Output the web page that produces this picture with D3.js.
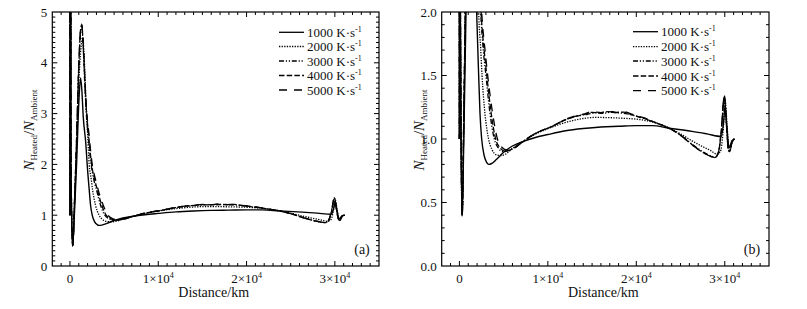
<!DOCTYPE html>
<html><head><meta charset="utf-8">
<script src="https://cdn.jsdelivr.net/npm/d3@7"></script>
<style>body{margin:0;background:#fff}svg{display:block}</style>
</head><body>
<svg id="c" width="807" height="309" font-family="'Liberation Serif', 'DejaVu Serif', 'Times New Roman', serif"></svg>
<script>
// ---- data (distance km, N_heated/N_ambient) ----
const seriesLabels = ["1000", "2000", "3000", "4000", "5000"];
const s1000 = [[0,1.0],[15,9],[70,9],[110,2.0],[300,0.39],[500,1.0],[750,2.0],[1000,3.2],[1200,3.7],[1350,3.45],[1500,2.95],[1800,2.4],[1950,2.0],[2180,1.5],[2330,1.2],[2520,1.0],[2800,0.87],[3050,0.82],[3300,0.80],[3600,0.805],[4200,0.84],[5000,0.895],[6000,0.945],[7000,0.975],[8500,1.01],[10000,1.035],[12000,1.065],[14000,1.083],[16000,1.095],[18000,1.10],[20000,1.105],[21800,1.105],[23700,1.085],[26300,1.06],[28000,1.04],[29600,1.02],[29850,1.12],[30050,1.26],[30250,1.08],[30500,0.93],[30800,0.985],[31100,1.0]];
const s2000 = [[0,1.0],[15,9],[70,9],[115,2.0],[310,0.4],[500,1.1],[750,2.3],[1000,3.6],[1250,4.3],[1450,4.5],[1600,4.15],[1800,3.3],[2000,2.6],[2180,2.0],[2400,1.72],[2560,1.5],[2890,1.2],[3300,1.0],[3700,0.915],[4200,0.875],[4700,0.87],[5200,0.88],[6000,0.925],[7000,0.97],[8500,1.035],[10500,1.095],[12000,1.13],[13500,1.155],[15400,1.17],[18000,1.165],[20700,1.15],[22500,1.12],[23700,1.087],[25000,1.04],[26300,0.985],[27500,0.94],[28500,0.905],[29100,0.88],[29500,0.9],[29800,1.05],[30050,1.3],[30250,1.12],[30450,0.93],[30600,0.92],[30850,0.985],[31100,1.0]];
const s3000 = [[0,1.0],[15,9],[70,9],[115,2.0],[320,0.4],[500,1.2],[750,2.45],[1000,3.9],[1200,4.6],[1330,4.72],[1500,4.3],[1700,3.5],[1850,3.0],[2100,2.5],[2400,2.0],[2700,1.7],[3000,1.5],[3460,1.2],[3950,1.0],[4400,0.93],[4900,0.9],[5400,0.905],[6000,0.925],[7000,0.97],[8500,1.04],[10500,1.1],[12000,1.15],[13500,1.185],[14500,1.195],[15400,1.205],[16200,1.202],[17000,1.21],[18000,1.205],[19000,1.198],[19500,1.19],[20700,1.165],[22500,1.12],[23700,1.085],[25000,1.03],[26300,0.96],[27500,0.9],[28500,0.865],[28900,0.855],[29300,0.9],[29600,1.05],[29950,1.33],[30200,1.1],[30400,0.92],[30550,0.9],[30800,0.97],[31100,1.0]];
const s4000 = [[0,1.0],[15,9],[70,9],[115,2.0],[320,0.4],[500,1.2],[750,2.5],[1000,3.95],[1200,4.65],[1330,4.75],[1500,4.35],[1700,3.6],[1850,3.1],[2100,2.6],[2450,2.0],[2800,1.7],[3100,1.5],[3600,1.2],[4100,1.0],[4600,0.93],[5100,0.905],[5600,0.91],[6200,0.93],[7000,0.97],[8500,1.04],[10500,1.1],[12000,1.152],[13000,1.175],[14000,1.19],[15000,1.21],[16000,1.205],[16800,1.215],[17800,1.208],[18600,1.212],[19500,1.19],[20700,1.168],[22500,1.12],[23700,1.085],[25000,1.03],[26300,0.955],[27500,0.895],[28500,0.862],[28900,0.853],[29300,0.9],[29600,1.06],[29950,1.34],[30200,1.1],[30400,0.92],[30550,0.9],[30800,0.97],[31100,1.0]];
const s5000 = [[0,1.0],[15,9],[70,9],[115,2.0],[320,0.4],[500,1.2],[750,2.5],[1000,3.95],[1200,4.65],[1330,4.76],[1500,4.4],[1700,3.65],[1850,3.15],[2150,2.6],[2520,2.0],[2900,1.7],[3200,1.5],[3760,1.2],[4300,1.0],[4800,0.935],[5300,0.915],[5800,0.92],[6400,0.935],[7000,0.97],[8500,1.04],[10500,1.1],[12000,1.155],[13000,1.18],[14000,1.195],[15000,1.215],[16000,1.208],[16800,1.22],[17800,1.21],[18600,1.215],[19500,1.195],[20700,1.17],[22500,1.12],[23700,1.085],[25000,1.03],[26300,0.955],[27500,0.895],[28500,0.86],[28900,0.85],[29300,0.9],[29600,1.06],[29950,1.34],[30200,1.1],[30400,0.92],[30550,0.9],[30800,0.97],[31100,1.0]];
const seriesData = [s1000, s2000, s3000, s4000, s5000];
const xDomain = [-2000, 35000];
const xMajorTicks = [0, 10000, 20000, 30000];
const xTickMant = ["0", "1", "2", "3"];
const yTicksA = [0, 1, 2, 3, 4, 5];
const yTicksB = [0.0, 0.5, 1.0, 1.5, 2.0];
const panelTags = ["(a)", "(b)"];

// ---- styles ----
const FONT = "'Liberation Serif', 'DejaVu Serif', 'Times New Roman', serif";
const dashes = [null, "1.3,1.3", "5,1.8,1.2,1.8,1.2,1.8", "5.5,2.2", "8,7"];

const svg = d3.select("#c");

function txt(g) { return g.append("text").attr("font-family", FONT).attr("fill", "#111"); }

function drawPanel(idx, L, R, T, B, yMax, yTicks, yMajorStep, yFmt, legX, legRows) {
  const g = svg.append("g");
  const x = d3.scaleLinear().domain(xDomain).range([L, R]);
  const y = d3.scaleLinear().domain([0, yMax]).range([B, T]);
  const clipId = "clip" + idx;
  g.append("clipPath").attr("id", clipId).append("rect")
    .attr("x", L).attr("y", T).attr("width", R - L).attr("height", B - T);

  const line = d3.line().x(d => x(d[0])).y(d => y(d[1])).curve(d3.curveMonotoneX);
  const lg = g.append("g").attr("clip-path", `url(#${clipId})`);
  seriesData.forEach((s, i) => {
    lg.append("path").attr("d", line(s)).attr("fill", "none")
      .attr("stroke", "#000").attr("stroke-width", i === 0 ? 1.4 : 1.3)
      .attr("stroke-dasharray", dashes[i]);
  });

  // frame
  g.append("rect").attr("x", L).attr("y", T).attr("width", R - L).attr("height", B - T)
    .attr("fill", "none").attr("stroke", "#000").attr("stroke-width", 1.2);

  // ticks (inward on all four sides)
  const tk = g.append("g").attr("stroke", "#000").attr("stroke-width", 1);
  d3.range(-2000, 35001, 1000).forEach(v => {
    const major = v % 10000 === 0;
    const len = major ? 5 : 3;
    const px = x(v);
    if (px <= L + 0.5 || px >= R - 0.5) return;
    tk.append("line").attr("x1", px).attr("x2", px).attr("y1", B).attr("y2", B - len);
    tk.append("line").attr("x1", px).attr("x2", px).attr("y1", T).attr("y2", T + len);
  });
  const nMinor = Math.round(yMax / 0.1);
  d3.range(0, nMinor + 1).forEach(k => {
    const v = k * 0.1;
    const major = Math.abs(v / yMajorStep - Math.round(v / yMajorStep)) < 1e-6;
    const len = major ? 5 : 3;
    const py = y(v);
    if (py >= B - 0.5 || py <= T + 0.5) return;
    tk.append("line").attr("x1", L).attr("x2", L + len).attr("y1", py).attr("y2", py);
    tk.append("line").attr("x1", R).attr("x2", R - len).attr("y1", py).attr("y2", py);
  });

  // x tick labels
  xMajorTicks.forEach((v, i) => {
    const t = txt(g).attr("x", x(v)).attr("y", 283).attr("text-anchor", "middle")
      .attr("font-size", 13);
    if (v === 0) { t.text("0"); }
    else {
      t.append("tspan").text(xTickMant[i] + "×10");
      t.append("tspan").attr("dy", -5).attr("font-size", 8).text("4");
    }
  });
  // y tick labels
  yTicks.forEach(v => {
    txt(g).attr("x", L - 5).attr("y", y(v) + 4.5).attr("text-anchor", "end")
      .attr("font-size", 13).text(yFmt(v));
  });

  // axis titles
  txt(g).attr("x", (L + R) / 2 - 2).attr("y", 297).attr("text-anchor", "middle")
    .attr("font-size", 14).text("Distance/km");
  const yl = txt(g).attr("transform", `translate(${L - 18},130) rotate(-90)`)
    .attr("text-anchor", "middle").attr("font-size", 15);
  yl.append("tspan").attr("font-style", "italic").text("N");
  yl.append("tspan").attr("font-size", 9).attr("dy", 3).text("Heated");
  yl.append("tspan").attr("dy", -3).text("/");
  yl.append("tspan").attr("font-style", "italic").text("N");
  yl.append("tspan").attr("font-size", 9).attr("dy", 3).text("Ambient");

  // panel tag
  txt(g).attr("x", R - 17).attr("y", 254).attr("text-anchor", "middle")
    .attr("font-size", 14).text(panelTags[idx]);

  // legend
  seriesLabels.forEach((lab, i) => {
    const ry = legRows[i];
    g.append("line").attr("x1", legX).attr("x2", legX + 25).attr("y1", ry).attr("y2", ry)
      .attr("stroke", "#000").attr("stroke-width", 1.3).attr("stroke-dasharray", dashes[i]);
    const t = txt(g).attr("x", legX + 28).attr("y", ry + 4.5).attr("font-size", 13);
    t.append("tspan").text(lab + " K·s");
    t.append("tspan").attr("dy", -5).attr("font-size", 8).text("-1");
  });
}

drawPanel(0, 52.3, 379, 12, 266, 5, yTicksA, 1, d => d3.format("d")(d), 279, [32.3, 46.5, 61, 75.5, 90]);
drawPanel(1, 441.7, 769, 12, 266, 2, yTicksB, 0.5, d => d3.format(".1f")(d), 633, [31.7, 46.7, 61, 76, 90.7]);
</script>
</body></html>
